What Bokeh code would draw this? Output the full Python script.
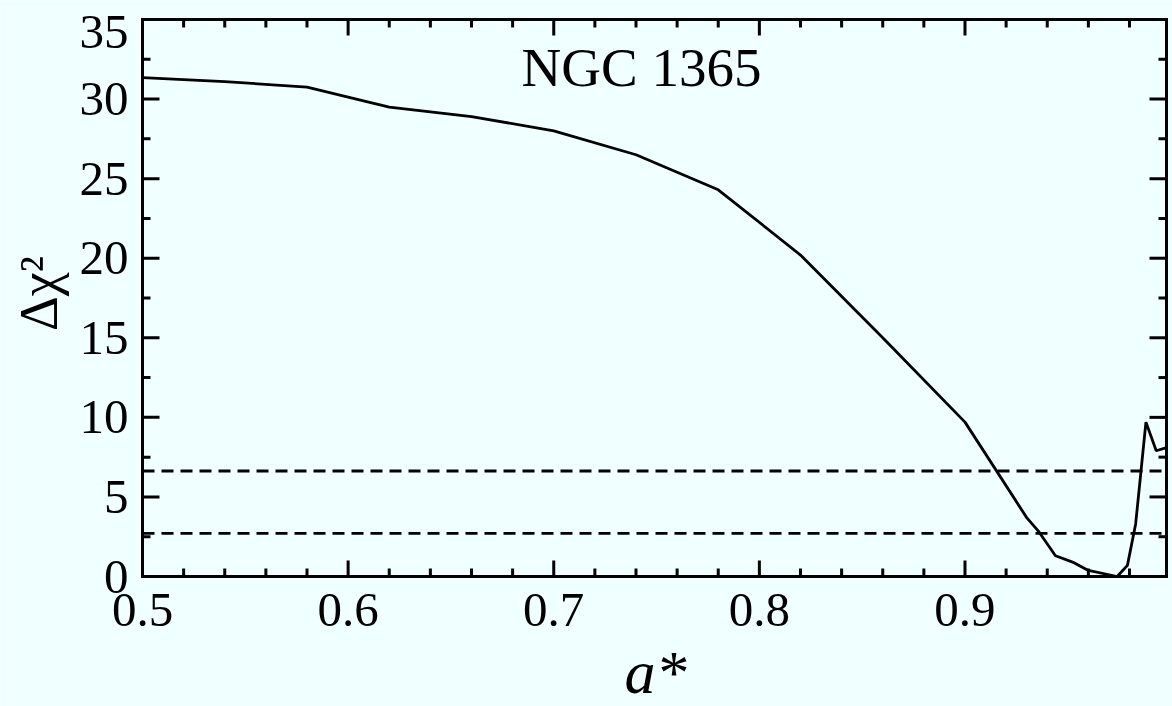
import math
from bokeh.plotting import figure
from bokeh.models import Range1d, Label
from bokeh.core.properties import value
from bokeh.embed import file_html
from bokeh.resources import INLINE

spin = [0.50, 0.54, 0.58, 0.62, 0.66, 0.70, 0.74, 0.78, 0.82, 0.86, 0.90, 0.930, 0.936, 0.944, 0.953, 0.960, 0.974, 0.979, 0.983, 0.988, 0.993, 0.998]
dchi2 = [31.35, 31.1, 30.75, 29.5, 28.9, 28.0, 26.5, 24.3, 20.2, 15.0, 9.7, 3.7, 2.8, 1.3, 0.87, 0.38, 0.0, 0.7, 3.3, 9.7, 7.9, 8.1]
conf_levels = [2.71, 6.63]
x_ticks = [0.5, 0.6, 0.7, 0.8, 0.9]
x_tick_labels = ["0.5", "0.6", "0.7", "0.8", "0.9"]
x_minor = [0.52, 0.54, 0.56, 0.58, 0.62, 0.64, 0.66, 0.68, 0.72, 0.74, 0.76, 0.78,
           0.82, 0.84, 0.86, 0.88, 0.92, 0.94, 0.96, 0.98]
y_ticks = [0, 5, 10, 15, 20, 25, 30, 35]
y_tick_labels = ["0", "5", "10", "15", "20", "25", "30", "35"]
y_minor = [2.5, 7.5, 12.5, 17.5, 22.5, 27.5, 32.5]
title_text = "NGC 1365"
x_label = "a*"
y_label = "Δχ²"

BG = "#f0ffff"
FONT = "Liberation Serif"
X0, X1, Y0, Y1 = 0.5, 0.998, 0.0, 35.0
W, H = 1172, 706
BOX_L, BOX_R, BOX_T, BOX_B = 142, 1166, 19, 576   # pixel edges of the data box
dx = (X1 - X0) / (BOX_R - BOX_L)    # data units per pixel (x)
dy = (Y1 - Y0) / (BOX_B - BOX_T)    # data units per pixel (y)

p = figure(width=W, height=H, output_backend="svg", toolbar_location=None,
           x_range=Range1d(X0 - BOX_L * dx, X1 + (W - BOX_R) * dx),
           y_range=Range1d(Y0 - (H - BOX_B) * dy, Y1 + BOX_T * dy),
           x_axis_location=None, y_axis_location=None,
           background_fill_color=BG, border_fill_color=BG,
           min_border_left=0, min_border_right=0, min_border_top=0, min_border_bottom=0)
p.grid.visible = False
p.outline_line_color = None


def ydata(pix):
    return Y1 - (pix - BOX_T) * dy


def xdata(pix):
    return X0 + (pix - BOX_L) * dx


# data box
p.quad(left=[X0], right=[X1], bottom=[Y0], top=[Y1], fill_color=None,
       line_color="black", line_width=3, line_join="miter")

# inward ticks on all four sides
xmaj_len, xmin_len = 16 * dy, 8 * dy
ymaj_len, ymin_len = 17 * dx, 8 * dx
xs0, ys0, xs1, ys1 = [], [], [], []
for t in x_ticks:
    xs0 += [t, t]; xs1 += [t, t]; ys0 += [Y0, Y1]; ys1 += [Y0 + xmaj_len, Y1 - xmaj_len]
for t in x_minor:
    xs0 += [t, t]; xs1 += [t, t]; ys0 += [Y0, Y1]; ys1 += [Y0 + xmin_len, Y1 - xmin_len]
for t in y_ticks:
    ys0 += [t, t]; ys1 += [t, t]; xs0 += [X0, X1]; xs1 += [X0 + ymaj_len, X1 - ymaj_len]
for t in y_minor:
    ys0 += [t, t]; ys1 += [t, t]; xs0 += [X0, X1]; xs1 += [X0 + ymin_len, X1 - ymin_len]
p.segment(x0=xs0, y0=ys0, x1=xs1, y1=ys1, line_color="black", line_width=3)

# tick labels
p.text(x=x_ticks, y=[ydata(609)] * len(x_ticks), text=x_tick_labels,
       text_font=value(FONT), text_font_size=value("49px"), text_color="black",
       text_align="center", text_baseline="middle")

# the top y label sits a little lower, as in the original
y_label_pos = [t if t < Y1 else t - 12 * dy for t in y_ticks]
p.text(x=[X0 - 14 * dx] * len(y_ticks), y=y_label_pos, text=y_tick_labels,
       text_font=value(FONT), text_font_size=value("49px"), text_color="black",
       text_align="right", text_baseline="middle")

# confidence levels, dashed, inside the box only
p.segment(x0=[X0] * len(conf_levels), x1=[X1] * len(conf_levels),
          y0=conf_levels, y1=conf_levels, line_color="black",
          line_width=2.8, line_dash="12 7")

p.line(spin, dchi2, line_color="black", line_width=2.8)

p.add_layout(Label(x=xdata(641), y=ydata(67), text=title_text, text_font=FONT,
                   text_font_size="55px", text_align="center", text_baseline="middle",
                   text_color="black"))

p.add_layout(Label(x=xdata(655), y=ydata(671), text=x_label, text_font=FONT,
                   text_font_style="italic", text_font_size="62px", text_align="center",
                   text_baseline="middle", text_color="black"))

p.add_layout(Label(x=xdata(38), y=ydata(293), text=y_label, text_font=FONT,
                   text_font_size="54px", text_align="center", text_baseline="middle",
                   angle=math.pi / 2, text_color="black"))

open("out.html", "w").write(file_html(p, INLINE))
